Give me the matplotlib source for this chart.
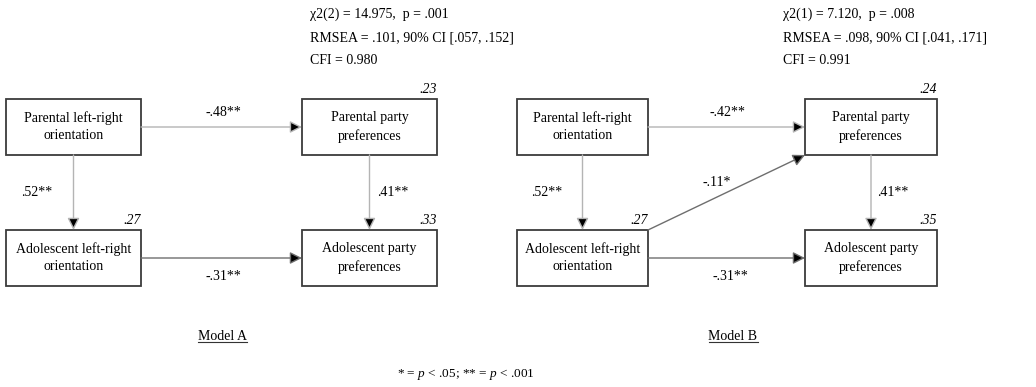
import matplotlib.pyplot as plt
from matplotlib.patches import Rectangle

plt.rcParams['font.family'] = 'Liberation Serif'
plt.rcParams['mathtext.fontset'] = 'custom'
plt.rcParams['mathtext.rm'] = 'Liberation Serif'
plt.rcParams['mathtext.it'] = 'Liberation Serif:italic'

# variables (same in both models)
nodes = ["Parental left-right\norientation", "Parental party\npreferences",
         "Adolescent left-right\norientation", "Adolescent party\npreferences"]

# path coefficients: (from, to, label)
paths_a = [(0, 1, "-.48**"), (0, 2, ".52**"), (1, 3, ".41**"), (2, 3, "-.31**")]
paths_b = [(0, 1, "-.42**"), (0, 2, ".52**"), (1, 3, ".41**"), (2, 3, "-.31**"), (2, 1, "-.11*")]

# explained variance per node (None = exogenous)
r2_a = [None, ".23", ".27", ".33"]
r2_b = [None, ".24", ".27", ".35"]

fit_a = ["χ2(2) = 14.975,  p = .001", "RMSEA = .101, 90% CI [.057, .152]", "CFI = 0.980"]
fit_b = ["χ2(1) = 7.120,  p = .008", "RMSEA = .098, 90% CI [.041, .171]", "CFI = 0.991"]

titles = ["Model A", "Model B"]
footnote = r"* = $\mathit{p}$ < .05; ** = $\mathit{p}$ < .001"

# layout in pixels
W, H = 1036, 387
box_h = 56
row_y = [99, 230]
fs = 10
line_col = {"h_top": "#b4b4b4", "v": "#b4b4b4", "h_bot": "#6e6e6e", "diag": "#6e6e6e"}

models = [
    dict(cols=[(6, 141), (302, 437)], paths=paths_a, r2=r2_a, fit=fit_a, fit_x=310,
         title_x=222,
         lab_pos={(0, 1): (223, 112), (0, 2): (37, 193), (1, 3): (393, 193), (2, 3): (223, 277)}),
    dict(cols=[(517, 648), (805, 937)], paths=paths_b, r2=r2_b, fit=fit_b, fit_x=783,
         title_x=733,
         lab_pos={(0, 1): (727, 112), (0, 2): (547, 193), (1, 3): (893, 193), (2, 3): (730, 277),
                  (2, 1): (717, 182)}),
]

fig = plt.figure(figsize=(W / 100, H / 100), dpi=100)
ax = fig.add_axes([0, 0, 1, 1])
ax.set_xlim(0, W)
ax.set_ylim(H, 0)
ax.axis('off')


def box_of(m, i):
    x0, x1 = m["cols"][i % 2]
    y0 = row_y[i // 2]
    return x0, x1, y0, y0 + box_h


title_texts = []
for k, m in enumerate(models):
    for i, name in enumerate(nodes):
        x0, x1, y0, y1 = box_of(m, i)
        ax.add_patch(Rectangle((x0, y0), x1 - x0, y1 - y0, fill=False,
                               ec="#3c3c3c", lw=1.3))
        ax.text((x0 + x1) / 2, (y0 + y1) / 2, name, ha='center', va='center',
                fontsize=fs, linespacing=1.4)
        if m["r2"][i]:
            ax.text(x1, y0 - 3, m["r2"][i], ha='right', va='bottom',
                    fontsize=fs, style='italic')

    for a, b, lab in m["paths"]:
        ax0, ax1, ay0, ay1 = box_of(m, a)
        bx0, bx1, by0, by1 = box_of(m, b)
        if a // 2 == b // 2:  # horizontal
            y = (ay0 + ay1) / 2
            start, end = (ax1, y), (bx0, y)
            col = line_col["h_top"] if a // 2 == 0 else line_col["h_bot"]
        elif a % 2 == b % 2:  # vertical
            x = (ax0 + ax1) / 2
            start, end = (x, ay1), (x, by0)
            col = line_col["v"]
        else:  # diagonal
            start, end = (ax1, ay0), (bx0, by1)
            col = line_col["diag"]
        ax.annotate("", xy=end, xytext=start,
                    arrowprops=dict(arrowstyle='-|>,head_length=0.6,head_width=0.3',
                                    ec=col, fc='black', lw=1.0,
                                    shrinkA=0, shrinkB=0, mutation_scale=12))
        lx, ly = m["lab_pos"][(a, b)]
        ax.text(lx, ly, lab, ha='center', va='center', fontsize=fs)

    for j, line in enumerate(m["fit"]):
        ax.text(m["fit_x"], 14 + j * 23.5, line, ha='left', va='center', fontsize=fs)

    title_texts.append(ax.text(m["title_x"], 337, titles[k], ha='center', va='center',
                               fontsize=fs))

ax.text(466, 375, footnote, ha='center', va='center', fontsize=fs - 0.5)

# underline the model titles
fig.canvas.draw()
inv = ax.transData.inverted()
for t in title_texts:
    bb = t.get_window_extent()
    (ux0, uy), (ux1, _) = inv.transform([(bb.x0, bb.y0 + 1.5), (bb.x1, bb.y0)])
    ax.plot([ux0, ux1], [uy, uy], color='#333333', lw=0.8)

fig.savefig("out.png", dpi=100)
